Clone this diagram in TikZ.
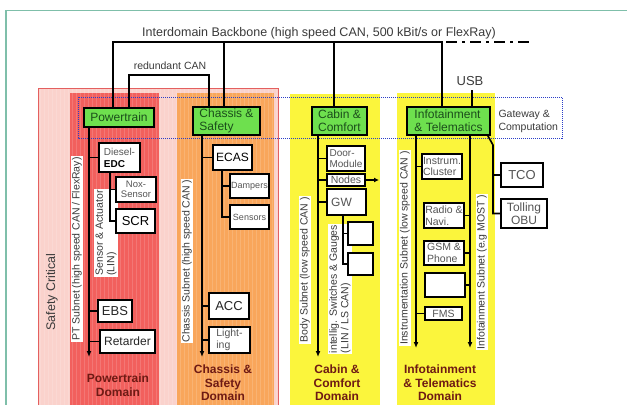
\documentclass[tikz,border=0pt]{standalone}
\usepackage{fontspec}
\setmainfont{Liberation Sans}
\usetikzlibrary{arrows.meta, positioning}
\definecolor{colorMarco}{HTML}{7FBFAA}
\definecolor{safetyPink}{HTML}{FAD2CC}
\definecolor{safetyBorder}{HTML}{E45F5F}
\definecolor{ptRed}{HTML}{F2605D}
\definecolor{chassisOrange}{HTML}{F9A65B}
\definecolor{comfortYellow}{HTML}{FBF53C}
\definecolor{gatewayGreen}{HTML}{6EE04E}
\definecolor{gatewayText}{HTML}{1B4D1B}
\definecolor{gatewayBlue}{HTML}{2B3FC8}
\definecolor{domainText}{HTML}{6E1A14}
\definecolor{labelGray}{HTML}{3A3A3A}
\definecolor{ecuGray}{HTML}{555555}

\begin{document}
\begin{tikzpicture}[
        x=1pt, y=-1pt,
        gw/.style={draw, line width=1.8pt, fill=gatewayGreen, text=gatewayText, align=left,
            inner sep=1pt, font=\fontsize{12}{13}\selectfont},
        ecu/.style={draw, line width=1.6pt, fill=white, align=center, inner sep=0.5pt,
            text=ecuGray, font=\fontsize{11}{12}\selectfont},
        sub/.style={fill=white, rotate=90, inner sep=1pt, align=left, text=labelGray,
            font=\fontsize{10.5}{11.5}\selectfont},
        dom/.style={align=center, text=domainText, font=\bfseries\fontsize{12}{13.5}\selectfont},
        bus/.style={line width=1.8pt, -{Latex[length=6pt, width=5pt]}},
        link/.style={line width=1.6pt},
        grille/.style={white, opacity=0.15, line width=0.3pt, step=4}
    ]
    \useasboundingbox (0,0) rectangle (627,405);
    \draw[colorMarco, line width=1.2pt] (627,10.5) -- (6,10.5) -- (6,405);

    % domain areas
    \fill[safetyPink] (38,88) rectangle (278,405);
    \draw[grille] (38,88) grid (278,405);
    \draw[safetyBorder, line width=0.8pt] (38,405) -- (38,88) -- (278,88) -- (278,405);
    \fill[ptRed] (70,93) rectangle (159,405);
    \draw[grille] (70,93) grid (159,405);
    \fill[chassisOrange] (177,93) rectangle (274,405);
    \draw[grille] (177,93) grid (274,405);
    \fill[comfortYellow] (290,94) rectangle (380,405);
    \fill[comfortYellow] (397,93) rectangle (495,405);
    \draw[gatewayBlue, line width=1pt, dash pattern=on 1pt off 1pt] (78,97) rectangle (562,138);

    % texts
    \node[font=\fontsize{12.5}{13}\selectfont, text=labelGray] (backboneTxt) at (319,33)
        {Interdomain Backbone (high speed CAN, 500 kBit/s or FlexRay)};
    \node[font=\fontsize{10.5}{11}\selectfont, text=labelGray] (redTxt) at (170,66) {redundant CAN};
    \node[font=\fontsize{13}{14}\selectfont, text=labelGray] (usbTxt) at (470,81) {USB};
    \node[anchor=west, align=left, text=labelGray, font=\fontsize{10.5}{12.5}\selectfont] (gwTxt)
        at (495,121.5) {Gateway \&\\Computation};
    \node[rotate=90, text=labelGray, font=\fontsize{12.5}{13}\selectfont] (safetyTxt) at (52,292) {Safety Critical};

    % subnet labels
    \node[sub] (ptLbl) at (77,249) {PT Subnet (high speed CAN / FlexRay)};
    \node[sub] (linLbl) at (106,233) {Sensor \& Actuator\\(LIN)};
    \node[sub] (csLbl) at (187,261) {Chassis Subnet (high speed CAN )};
    \node[sub] (bodyLbl) at (305,270) {Body Subnet (low speed CAN )};
    \node[sub] (swLbl) at (340,289) {intellig. Switches \& Gauges\\(LIN / LS CAN)};
    \node[sub] (instLbl) at (405,248) {Instrumentation Subnet (low speed CAN )};
    \node[sub] (infoLbl) at (482,272) {Infotainment Subnet (e.g MOST )};

    % domain names
    \node[dom] (ptDom) at (118,385) {Powertrain\\Domain};
    \node[dom] (csDom) at (223,383) {Chassis \&\\Safety\\Domain};
    \node[dom] (ccDom) at (337,383) {Cabin \&\\Comfort\\Domain};
    \node[dom] (itDom) at (440,383) {Infotainment\\\& Telematics\\Domain};

    % gateways
    \node[gw, minimum width=70pt, minimum height=19pt] (pt) at (119,117.5) {Powertrain};
    \node[gw, minimum width=67pt, minimum height=28pt] (cs) at (226.5,121) {Chassis \&\\Safety};
    \node[gw, minimum width=55pt, minimum height=28pt] (cc) at (339.5,121) {Cabin \&\\Comfort};
    \node[gw, minimum width=83pt, minimum height=28pt] (it) at (448.5,121) {Infotainment\\\& Telematics};

    % powertrain ECUs
    \node[ecu, align=left, minimum width=41pt, minimum height=29pt, font=\fontsize{10}{12}\selectfont] (edc)
        at (119.5,157.5) {Diesel-\\\textcolor{black}{\bfseries EDC}};
    \node[ecu, minimum width=40pt, minimum height=25pt, font=\fontsize{9.5}{10.5}\selectfont] (nox)
        at (136,189.5) {Nox-\\Sensor};
    \node[ecu, minimum width=39pt, minimum height=24pt, text=black, font=\fontsize{13}{14}\selectfont] (scr)
        at (135.5,221) {SCR};
    \node[ecu, minimum width=34pt, minimum height=22pt, text=black!85, font=\fontsize{13}{14}\selectfont] (ebs)
        at (115,311) {EBS};
    \node[ecu, minimum width=55pt, minimum height=23pt, text=black!85, font=\fontsize{12}{13}\selectfont] (ret)
        at (127.5,341.5) {Retarder};

    % chassis ECUs
    \node[ecu, minimum width=39pt, minimum height=25pt, text=black, font=\fontsize{12}{13}\selectfont] (ecas)
        at (232.5,157.5) {ECAS};
    \node[ecu, minimum width=39pt, minimum height=24pt, font=\fontsize{9}{10}\selectfont] (damp)
        at (249.5,186) {Dampers};
    \node[ecu, minimum width=39pt, minimum height=24pt, font=\fontsize{9}{10}\selectfont] (sens)
        at (249.5,217) {Sensors};
    \node[ecu, minimum width=40pt, minimum height=26pt, text=black!85, font=\fontsize{13}{14}\selectfont] (acc)
        at (229,306) {ACC};
    \node[ecu, align=left, minimum width=41pt, minimum height=26pt, font=\fontsize{10.5}{11.5}\selectfont] (lig)
        at (229.5,340) {Light-\\ing};

    % cabin ECUs
    \node[ecu, align=left, minimum width=38pt, minimum height=25pt, font=\fontsize{10}{11}\selectfont] (door)
        at (346,158.5) {Door-\\Module};
    \node[ecu, minimum width=38pt, minimum height=12pt, inner sep=0pt, font=\fontsize{10.5}{11}\selectfont] (nodes)
        at (346,180) {Nodes};
    \node[ecu, minimum width=39pt, minimum height=26pt, font=\fontsize{12}{13}\selectfont] (gwc)
        at (346.5,202) {GW\hspace{10pt}};
    \node[ecu, minimum width=25pt, minimum height=23pt] (sg1) at (360.5,233.5) {};
    \node[ecu, minimum width=25pt, minimum height=22pt] (sg2) at (360.5,264) {};

    % infotainment ECUs
    \node[ecu, align=left, minimum width=40pt, minimum height=25pt, font=\fontsize{10.5}{11.5}\selectfont] (instr)
        at (442,166.5) {Instrum.\\Cluster};
    \node[ecu, align=left, minimum width=40pt, minimum height=25pt, font=\fontsize{10.5}{11.5}\selectfont] (radio)
        at (444,215.5) {Radio \&\\Navi.};
    \node[ecu, align=left, minimum width=40pt, minimum height=24pt, font=\fontsize{10.5}{11.5}\selectfont] (gsm)
        at (444,253) {GSM \&\\Phone};
    \node[ecu, minimum width=40pt, minimum height=24pt] (emp) at (445,285) {};
    \node[ecu, minimum width=37pt, minimum height=13pt, inner sep=0pt, font=\fontsize{10.5}{11}\selectfont] (fms)
        at (443.5,313.5) {FMS};
    \node[ecu, minimum width=42pt, minimum height=24pt, font=\fontsize{13}{14}\selectfont] (tco)
        at (522,175) {TCO};
    \node[ecu, minimum width=46pt, minimum height=29pt, font=\fontsize{12}{13}\selectfont] (obu)
        at (524,213.5) {Tolling\\OBU};

    % backbone and redundant CAN
    \coordinate (bbPt) at (113,42);
    \coordinate (bbCs) at (224,42);
    \coordinate (bbCc) at (334,42);
    \coordinate (bbIt) at (442,42);
    \coordinate (bbEnd) at (532,42);
    \draw[link, line width=1.8pt] (bbPt |- pt.north) -- (bbPt) -- (bbIt) -- (bbIt |- it.north);
    \draw[link, line width=1.8pt] (bbCs) -- (bbCs |- cs.north);
    \draw[link, line width=1.8pt] (bbCc) -- (bbCc |- cc.north);
    \draw[link, line width=2.2pt, dash pattern=on 11pt off 5pt on 3pt off 5pt, dash phase=-4pt] (bbIt) -- (bbEnd);
    \coordinate (redPt) at (129,75);
    \coordinate (redCs) at (209,75);
    \draw[link] (redPt |- pt.north) -- (redPt) -- (redCs) -- (redCs |- cs.north);
    \coordinate (usbIt) at (472,90);
    \draw[link] (usbIt) -- (usbIt |- it.north);

    % powertrain subnet
    \coordinate (ptBus) at (89,357);
    \coordinate (edcBus) at (110,222);
    \draw[bus] (ptBus |- pt.south) -- (ptBus);
    \draw[link] (edc.west) -- (edc.west -| ptBus);
    \draw[link] (ebs.west) -- (ebs.west -| ptBus);
    \draw[link] (ret.west) -- (ret.west -| ptBus);
    \draw[link] (edcBus |- edc.south) -- (edcBus |- scr.west) -- (scr.west);
    \draw[link] (nox.west) -- (nox.west -| edcBus);

    % chassis subnet
    \coordinate (csBus) at (202,357);
    \coordinate (ecasBus) at (222,217);
    \draw[bus] (csBus |- cs.south) -- (csBus);
    \draw[link] (ecas.west) -- (ecas.west -| csBus);
    \draw[link] (acc.west) -- (acc.west -| csBus);
    \draw[link] (lig.west) -- (lig.west -| csBus);
    \draw[link] (ecasBus |- ecas.south) -- (ecasBus |- sens.west) -- (sens.west);
    \draw[link] (damp.west) -- (damp.west -| ecasBus);

    % body subnet
    \coordinate (ccBus) at (318,357);
    \coordinate (gwBus) at (343,264);
    \coordinate (nodesOut) at (379,180);
    \draw[bus] (ccBus |- cc.south) -- (ccBus);
    \draw[link] (door.west) -- (door.west -| ccBus);
    \draw[link] (nodes.west) -- (nodes.west -| ccBus);
    \draw[link] (gwc.west) -- (gwc.west -| ccBus);
    \draw[link, -{Latex[length=5pt, width=5pt]}] (nodes.east) -- (nodesOut);
    \draw[link] (gwBus |- gwc.south) -- (gwBus |- sg2.west) -- (sg2.west);
    \draw[link] (sg1.west) -- (sg1.west -| gwBus);

    % instrumentation, infotainment and telematics
    \coordinate (instBus) at (416,348);
    \coordinate (infoBus) at (470,348);
    \coordinate (telTop) at (493,145);
    \draw[bus] (instBus |- it.south) -- (instBus);
    \draw[bus] (infoBus |- it.south) -- (infoBus);
    \draw[link] (instr.west) -- (instr.west -| instBus);
    \draw[link] (fms.west) -- (fms.west -| instBus);
    \draw[link] (radio.east) -- (radio.east -| infoBus);
    \draw[link] (gsm.east) -- (gsm.east -| infoBus);
    \draw[link] (emp.east) -- (emp.east -| infoBus);
    \draw[link] ([xshift=-3pt]it.south east) -- (telTop) -- (telTop |- obu.west) -- (obu.west);
    \draw[link] (tco.west) -- (tco.west -| telTop);
\end{tikzpicture}
\end{document}
